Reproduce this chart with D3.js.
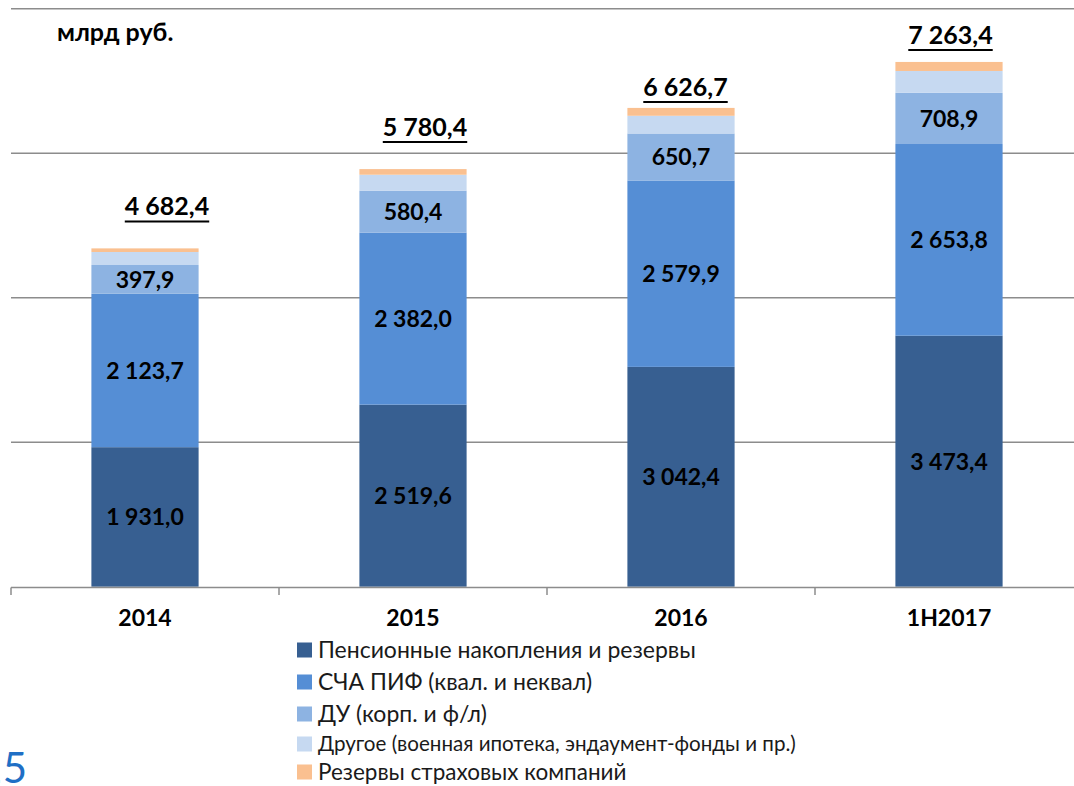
<!DOCTYPE html>
<html><head><meta charset="utf-8">
<script src="https://cdn.jsdelivr.net/npm/d3@7"></script>
<style>
html,body{margin:0;padding:0;background:#fff;}
svg{display:block;font-family:Lato,"Open Sans",sans-serif;}
</style></head>
<body>
<svg id="c" width="1074" height="786"></svg>
<script>
const categories = ["2014", "2015", "2016", "1H2017"];
const seriesNames = [
  "Пенсионные накопления и резервы",
  "СЧА ПИФ (квал. и неквал)",
  "ДУ (корп. и ф/л)",
  "Другое (военная ипотека, эндаумент-фонды и пр.)",
  "Резервы страховых компаний"
];
const pension   = [1931.0, 2519.6, 3042.4, 3473.4];
const pif       = [2123.7, 2382.0, 2579.9, 2653.8];
const du        = [397.9, 580.4, 650.7, 708.9];
const other     = [180, 220, 245, 302];
const insurance = [50, 78, 109, 125];
const totals    = [4682.4, 5780.4, 6626.7, 7263.4];
const yTicks    = [0, 2000, 4000, 6000, 8000];
const labelled  = [true, true, true, false, false];
const colors = ["#375F91", "#558ED5", "#8DB3E2", "#C6D9F1", "#FAC090"];
// layout of total labels (px offsets from bar centre / bar top)
const totalDx = [22, 12, 4.5, 1.5];
const totalDy = [-33, -33, -12, -18];

const fmt = v => {
  const s = v.toFixed(1).split(".");
  return s[0].replace(/\B(?=(\d{3})+(?!\d))/g, "\u00a0") + "," + s[1];
};

const svg = d3.select("#c");
const y = d3.scaleLinear().domain([0, 8000]).range([586.7, 8.7]);
const x = d3.scaleBand().domain(categories).range([11, 1083]).paddingInner(0.6).paddingOuter(0.3);

// gridlines
svg.append("g").selectAll("line").data(yTicks.filter(t => t > 0)).join("line")
  .attr("x1", 11).attr("x2", 1074)
  .attr("y1", d => y(d)).attr("y2", d => y(d))
  .attr("stroke", "#8c8c8c").attr("stroke-width", 1.5);

const series = [pension, pif, du, other, insurance];
const rows = categories.map((c, i) => {
  const r = {cat: c};
  series.forEach((s, k) => r["s" + k] = s[i]);
  return r;
});
const stack = d3.stack().keys(series.map((s, k) => "s" + k))(rows);

const g = svg.append("g");
stack.forEach((layer, k) => {
  g.selectAll(null).data(layer).join("rect")
    .attr("x", d => x(d.data.cat))
    .attr("width", x.bandwidth())
    .attr("y", d => y(d[1]))
    .attr("height", d => y(d[0]) - y(d[1]))
    .attr("fill", colors[k]);
  if (labelled[k]) {
    g.selectAll(null).data(layer).join("text")
      .attr("x", d => x(d.data.cat) + x.bandwidth() / 2)
      .attr("y", d => (y(d[0]) + y(d[1])) / 2)
      .attr("dy", "0.36em")
      .attr("text-anchor", "middle")
      .attr("font-weight", "bold").attr("font-size", 23)
      .attr("fill", "#000")
      .text(d => fmt(d[1] - d[0]));
  }
});

// axis
const ax = svg.append("g").attr("transform", "translate(0,587.5)")
  .call(d3.axisBottom(x).tickSize(0).tickPadding(22));
ax.select(".domain").remove();
ax.selectAll("text").attr("font-family", "Lato").attr("font-size", 23).attr("font-weight", "bold").attr("fill", "#000");
svg.append("line").attr("x1", 11).attr("x2", 1074).attr("y1", 587.5).attr("y2", 587.5)
  .attr("stroke", "#8c8c8c").attr("stroke-width", 1.5);
const bounds = d3.range(categories.length + 1).map(i => x.range()[0] + i * x.step());
svg.append("g").selectAll("line").data(bounds.filter(b => b <= 1074)).join("line")
  .attr("x1", d => d).attr("x2", d => d).attr("y1", 587.5).attr("y2", 595)
  .attr("stroke", "#8c8c8c").attr("stroke-width", 1.5);

// total labels (underlined)
const tot = svg.append("g").selectAll("g").data(totals).join("g")
  .attr("transform", (d, i) => `translate(${x(categories[i]) + x.bandwidth() / 2 + totalDx[i]},${y(d) + totalDy[i]})`);
tot.append("text")
  .attr("text-anchor", "middle")
  .attr("font-weight", "bold").attr("font-size", 25)
  .attr("fill", "#000")
  .text(d => fmt(d));
tot.each(function() {
  const t = d3.select(this).select("text").node();
  const w = t.getComputedTextLength();
  d3.select(this).append("line")
    .attr("x1", -w / 2).attr("x2", w / 2).attr("y1", 6).attr("y2", 6)
    .attr("stroke", "#000").attr("stroke-width", 2);
});

// unit label
svg.append("text").attr("x", 57).attr("y", 41)
  .attr("font-weight", "bold").attr("font-size", 25).attr("fill", "#000")
  .text("млрд руб.");

// legend
const legY = [650, 682, 714, 744, 772];
const legSize = [23, 23, 23, 20.6, 22.5];
const leg = svg.append("g").selectAll("g").data(seriesNames).join("g")
  .attr("transform", (d, i) => `translate(297,${legY[i]})`);
leg.append("rect").attr("x", 0).attr("y", -7.5).attr("width", 15).attr("height", 15)
  .attr("fill", (d, i) => colors[i]);
leg.append("text").attr("x", 21).attr("dy", "0.36em")
  .attr("font-size", (d, i) => legSize[i]).attr("fill", "#1a1a1a")
  .text(d => d);

// page number
svg.append("text").attr("x", 27).attr("y", 783).attr("text-anchor", "end")
  .attr("font-size", 42).attr("fill", "#1F6FC5").text("15");
</script>
</body></html>
